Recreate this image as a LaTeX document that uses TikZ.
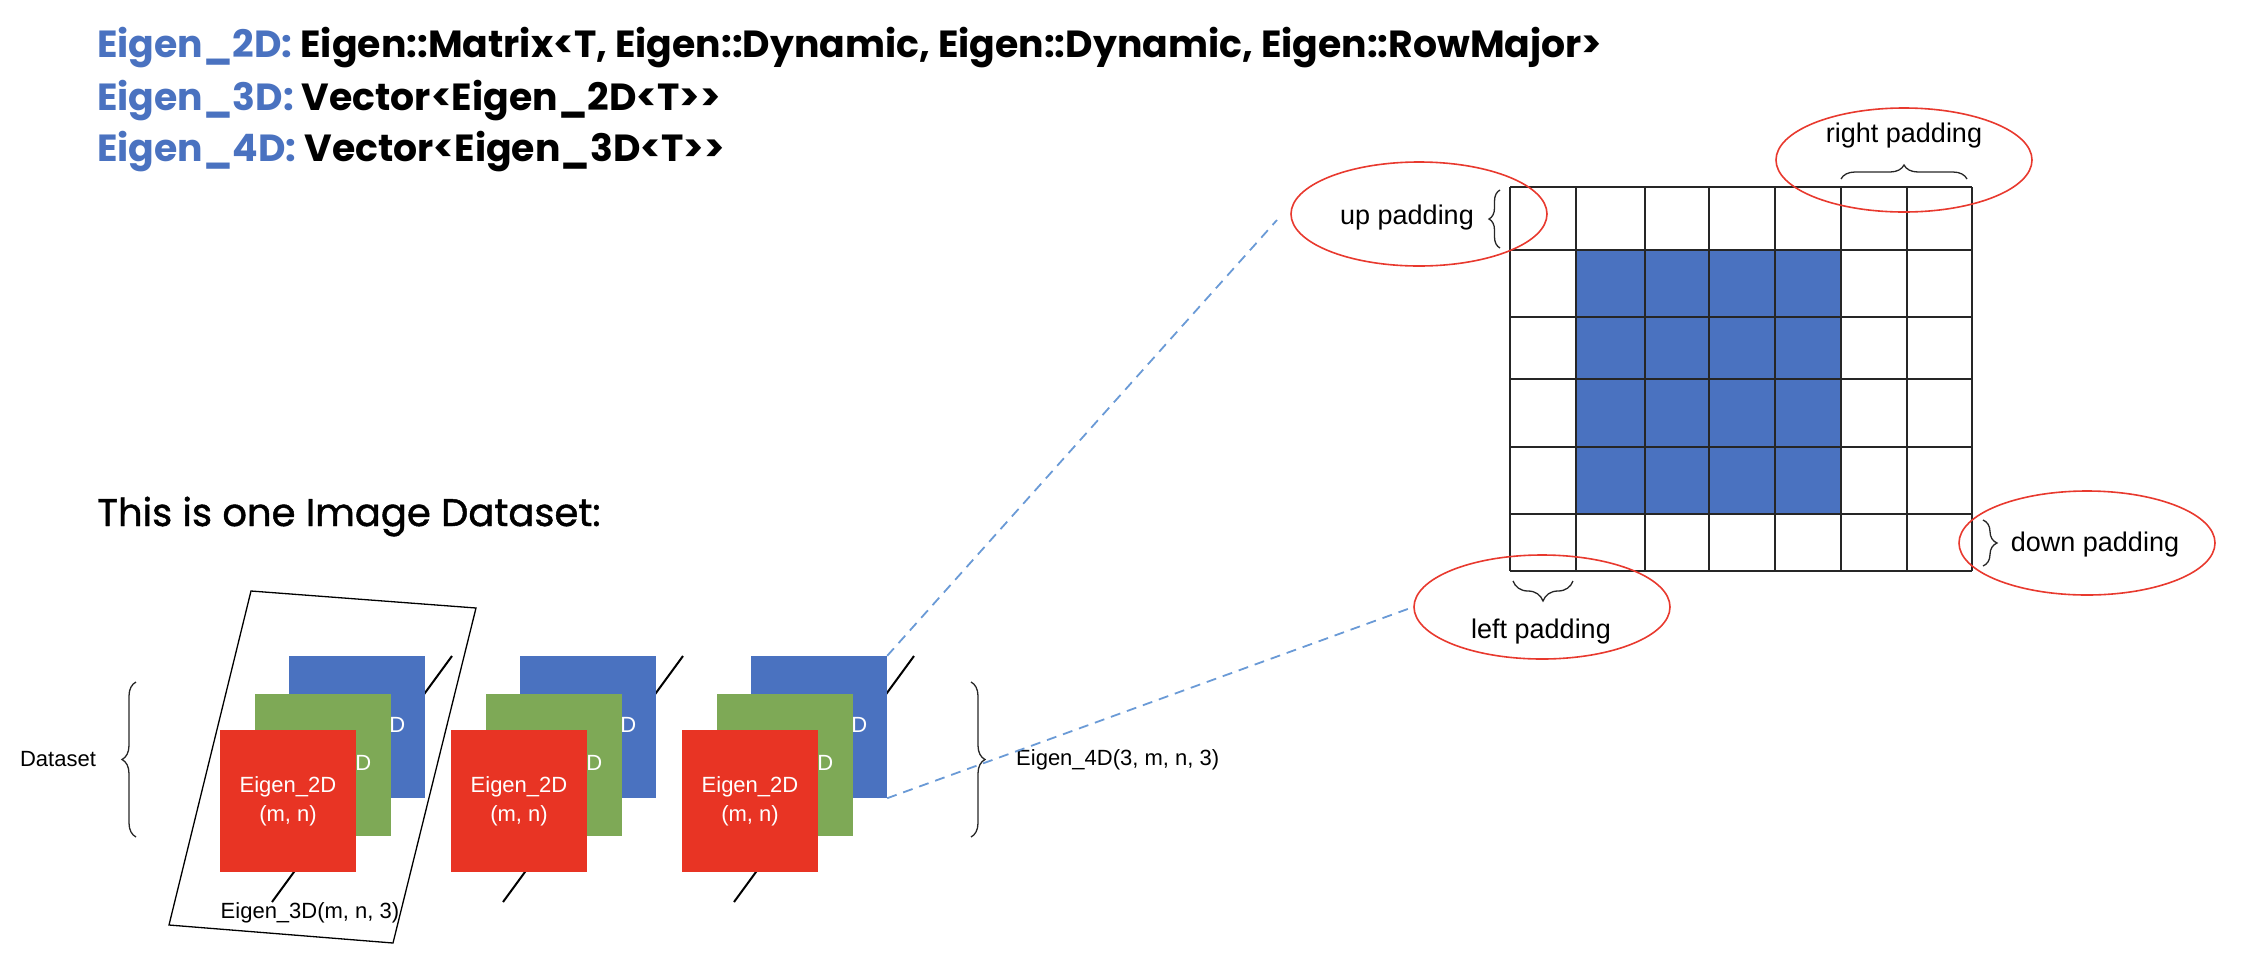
\documentclass[tikz,border=0pt]{standalone}
\usepackage{fontspec}
\setmainfont{Liberation Sans}
\newfontfamily\headfont{Poppins}
\newfontfamily\capfont{Poppins}[FakeBold=1.2]
\usetikzlibrary{shapes.geometric,decorations.pathreplacing}
\definecolor{matblue}{HTML}{4A72C0}
\definecolor{matgreen}{HTML}{7EA956}
\definecolor{matred}{HTML}{E83424}
\definecolor{dashblue}{HTML}{6A9AD6}
\definecolor{ringred}{HTML}{E8392E}

\begin{document}
\begin{tikzpicture}[x=1pt,y=-1pt,
  head/.style={anchor=base west,inner sep=0pt,font=\headfont\bfseries\fontsize{37.8}{42}\selectfont},
  square/.style={minimum width=136pt,minimum height=142pt,inner sep=0pt,text=white,align=center,
    font=\fontsize{22}{29}\selectfont},
  txt/.style={inner sep=0pt,font=\fontsize{22}{26}\selectfont},
  padtxt/.style={inner sep=0pt,font=\fontsize{27}{30}\selectfont},
  ring/.style={draw=ringred,line width=1.6pt,ellipse,minimum width=256pt,minimum height=104pt},
  bracket/.style={decorate,decoration={brace,amplitude=#1},line width=1.3pt,black!85},
  depth/.style={line width=2pt,black},
  zoomline/.style={dashblue,line width=1.8pt,dash pattern=on 10pt off 7pt}]
  \useasboundingbox (0,0) rectangle (2246,954);

  % type definitions
  \node[head] (def2d) at (97,57) {\textcolor{matblue}{Eigen\_2D:} Eigen::Matrix<T, Eigen::Dynamic, Eigen::Dynamic, Eigen::RowMajor>};
  \node[head] (def3d) at (97,110) {\textcolor{matblue}{Eigen\_3D:} Vector<Eigen\_2D<T>>};
  \node[head] (def4d) at (97,161) {\textcolor{matblue}{Eigen\_4D:} Vector<Eigen\_3D<T>>};
  \node[anchor=base west,inner sep=0pt,font=\capfont\fontsize{38.5}{42}\selectfont] (caption) at (97,526) {This is one Image Dataset:};

  % three channels per image
  \foreach \g in {0,1,2} {
    \draw[depth] (272+231*\g,902) -- (452+231*\g,656);
    \node[square,fill=matblue] (blue\g) at (357+231*\g,727) {};
    \node[txt,text=white] at (blue\g.center) {Eigen\_2D};
    \node[square,fill=matgreen] (green\g) at (323+231*\g,765) {};
    \node[txt,text=white] at (green\g.center) {Eigen\_2D};
    \node[square,fill=matred] (red\g) at (288+231*\g,801) {Eigen\_2D\\(m, n)};
  }

  \draw[line width=1.3pt] (251,591) -- (476,608) -- (393,943) -- (169,925) -- cycle;
  \node[txt] (img3d) at (310,913) {Eigen\_3D(m, n, 3)};

  \node[txt] (dataset) at (58,759) {Dataset};
  \draw[bracket=14pt] (136,837) -- (136,682);
  \draw[bracket=14pt] (971,682) -- (971,837);
  \node[txt,anchor=west] (eigen4d) at (1016,760) {Eigen\_4D(3, m, n, 3)};

  % zoomed matrix with padding
  \fill[matblue] (1576,250) rectangle (1841,514);
  \foreach \x in {1510,1576,1645,1709,1775,1841,1907,1972}
    \draw[line width=1.3pt,black!85] (\x,187) -- (\x,571);
  \foreach \y in {187,250,317,379,447,514,571}
    \draw[line width=1.3pt,black!85] (1510,\y) -- (1972,\y);

  \node[ring] (upring) at (1419,214) {};
  \node[ring] (rightring) at (1904,160) {};
  \node[ring] (downring) at (2087,543) {};
  \node[ring] (leftring) at (1542,607) {};
  \node[padtxt] (uppad) at (1407,218) {up padding};
  \node[padtxt] (rightpad) at (1904,136) {right padding};
  \node[padtxt] (downpad) at (2095,545) {down padding};
  \node[padtxt] (leftpad) at (1541,632) {left padding};
  \draw[bracket=11pt] (1500,248) -- (1500,190);
  \draw[bracket=14pt] (1841,179) -- (1967,179);
  \draw[bracket=14pt] (1983,520) -- (1983,566);
  \draw[bracket=20pt] (1573,581) -- (1513,581);

  \coordinate (uptip) at (1277,220);
  \draw[zoomline] (blue2.north east) -- (uptip);
  \draw[zoomline] (blue2.south east) -- (leftring.west);
\end{tikzpicture}
\end{document}
